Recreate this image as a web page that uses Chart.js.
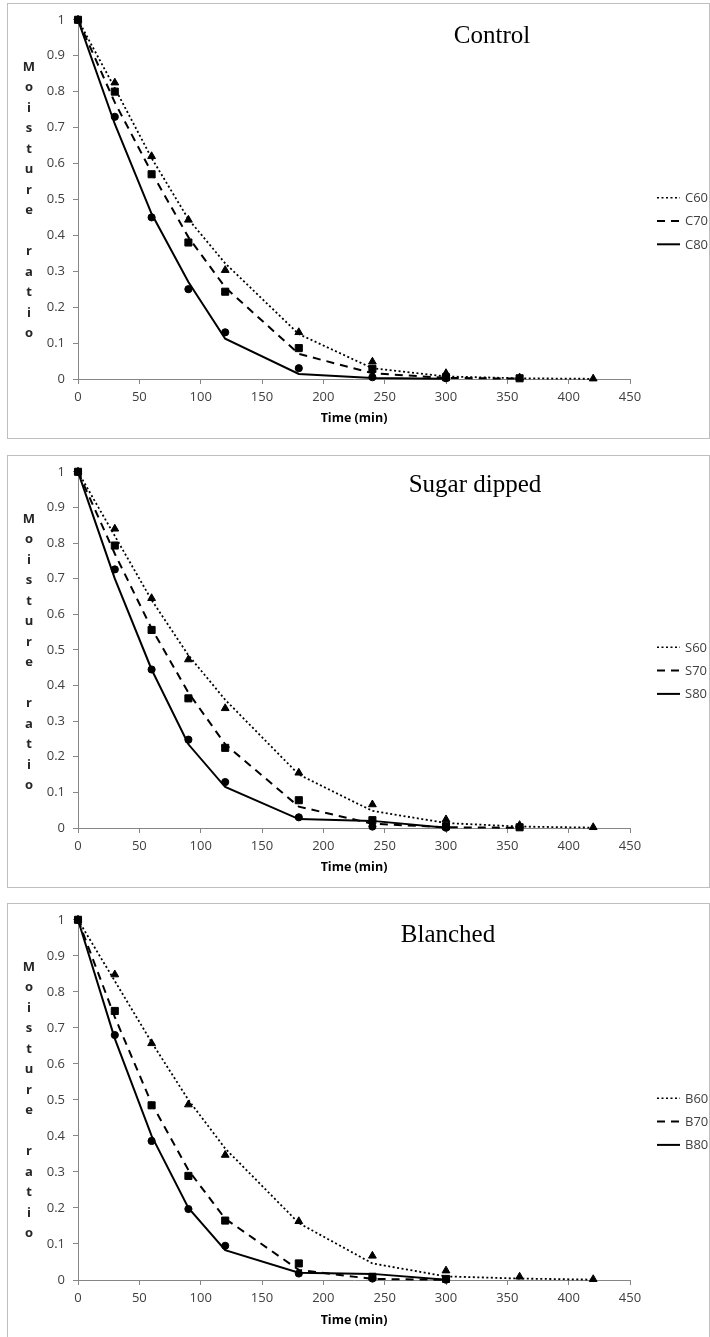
<!DOCTYPE html>
<html>
<head>
<meta charset="utf-8">
<script src="https://cdn.jsdelivr.net/npm/chart.js@4.4.1/dist/chart.umd.min.js"></script>
<style>
  body { margin: 0; background: #fff; width: 710px; height: 1337px; overflow: hidden; position: relative; }
  .panel { position: absolute; left: 7px; width: 703px; border: 1px solid #bfbfbf; box-sizing: border-box; overflow: hidden; background: #fff; }
  .panel canvas { display: block; }
</style>
</head>
<body>
<div class="panel" style="top:3px;height:436px"><canvas id="chartC" width="701" height="434"></canvas></div>
<div class="panel" style="top:455px;height:433px"><canvas id="chartS" width="701" height="431"></canvas></div>
<div class="panel" style="top:903px;height:442px"><canvas id="chartB" width="701" height="440"></canvas></div>
<script>
// time points (min) and axis ticks
const timeMin = [0, 30, 60, 90, 120, 180, 240, 300, 360, 420];
const xTicks = [0, 50, 100, 150, 200, 250, 300, 350, 400, 450];
const yTicks = [0, 0.1, 0.2, 0.3, 0.4, 0.5, 0.6, 0.7, 0.8, 0.9, 1];
const xTitle = "Time (min)";
const yTitle = "Moisture ratio";

// Control: measured (markers) and predicted (lines)
const c60Obs = [1, 0.825, 0.62, 0.443, 0.303, 0.13, 0.048, 0.016, 0.004, 0.001];
const c70Obs = [1, 0.80, 0.57, 0.38, 0.243, 0.086, 0.028, 0.005, 0.002];
const c80Obs = [1, 0.73, 0.45, 0.25, 0.13, 0.03, 0.005, 0.002];
const c60Fit = [1, 0.81, 0.615, 0.445, 0.322, 0.125, 0.03, 0.007, 0.002, 0.0005];
const c70Fit = [1, 0.77, 0.575, 0.395, 0.255, 0.07, 0.016, 0.003, 0.001];
const c80Fit = [1, 0.71, 0.46, 0.27, 0.112, 0.014, 0.003, 0.001];

// Sugar dipped
const s60Obs = [1, 0.84, 0.645, 0.473, 0.336, 0.155, 0.066, 0.024, 0.008, 0.002];
const s70Obs = [1, 0.793, 0.556, 0.364, 0.225, 0.078, 0.022, 0.005, 0.002];
const s80Obs = [1, 0.726, 0.445, 0.248, 0.129, 0.03, 0.004, 0.001];
const s60Fit = [1, 0.82, 0.64, 0.485, 0.36, 0.15, 0.048, 0.014, 0.004, 0.001];
const s70Fit = [1, 0.77, 0.56, 0.38, 0.235, 0.06, 0.012, 0.002, 0.0005];
const s80Fit = [1, 0.70, 0.445, 0.235, 0.115, 0.025, 0.02, 0.001];

// Blanched
const b60Obs = [1, 0.848, 0.657, 0.487, 0.347, 0.163, 0.067, 0.026, 0.009, 0.002];
const b70Obs = [1, 0.747, 0.485, 0.289, 0.165, 0.046, 0.009, 0.003];
const b80Obs = [1, 0.68, 0.386, 0.197, 0.095, 0.018, 0.004, 0.001];
const b60Fit = [1, 0.83, 0.66, 0.50, 0.365, 0.158, 0.046, 0.01, 0.004, 0.001];
const b70Fit = [1, 0.73, 0.49, 0.305, 0.17, 0.028, 0.003, 0.0005];
const b80Fit = [1, 0.67, 0.40, 0.20, 0.083, 0.02, 0.017, 0.001];

const tickFont = { family: "'Open Sans', sans-serif", size: 13 };
const axisColor = "#868686";
const lineDashes = [[2, 2.5], [8, 6], []];
const markerStyles = ["triangle", "rect", "circle"];
const markerSizes = [4.5, 5, 3.6];

// turn a value list into points on the time axis
function toPoints(values) {
  return values.map((v, i) => ({ x: timeMin[i], y: v }));
}

// draws panel title, stacked y title and the legend
const panelDecor = {
  id: "panelDecor",
  afterDraw(chart, args, opts) {
    const ctx = chart.ctx;
    ctx.save();
    ctx.fillStyle = "#000";
    ctx.font = "25px 'Liberation Serif', 'Times New Roman', serif";
    ctx.textAlign = "center";
    ctx.textBaseline = "alphabetic";
    ctx.fillText(opts.title, opts.titleX, opts.titleY);

    ctx.font = "bold 13px 'Open Sans', sans-serif";
    ctx.fillStyle = "#262626";
    ctx.textBaseline = "middle";
    yTitle.split("").forEach((ch, i) => {
      ctx.fillText(ch, 21, 63 + i * 20.5);
    });

    ctx.font = "13px 'Open Sans', sans-serif";
    ctx.textAlign = "left";
    opts.names.forEach((name, i) => {
      const y = opts.legendY + i * 23.3;
      ctx.strokeStyle = "#000";
      ctx.lineWidth = i === 0 ? 1.6 : 2;
      ctx.setLineDash(lineDashes[i]);
      ctx.beginPath();
      ctx.moveTo(649, y);
      ctx.lineTo(672, y);
      ctx.stroke();
      ctx.setLineDash([]);
      ctx.fillStyle = "#404040";
      ctx.fillText(name, 677, y + 0.5);
    });
    ctx.restore();
  },
};

function makeChart(id, p) {
  const datasets = [];
  p.obs.forEach((vals, i) => {
    datasets.push({
      label: p.names[i] + " obs",
      data: toPoints(vals),
      showLine: false,
      pointStyle: markerStyles[i],
      pointRadius: markerSizes[i],
      pointBackgroundColor: "#000",
      pointBorderColor: "#000",
      pointBorderWidth: 1,
      clip: false,
    });
  });
  p.fit.forEach((vals, i) => {
    datasets.push({
      label: p.names[i],
      data: toPoints(vals),
      showLine: true,
      borderColor: "#000",
      borderWidth: i === 0 ? 1.8 : 2,
      borderDash: lineDashes[i],
      pointRadius: 0,
      tension: 0,
      clip: false,
    });
  });

  return new Chart(document.getElementById(id), {
    type: "scatter",
    data: { datasets: datasets },
    options: {
      responsive: false,
      animation: false,
      layout: { padding: { left: 0, top: 13, right: 79, bottom: 0 } },
      plugins: {
        legend: { display: false },
        tooltip: { enabled: false },
        panelDecor: p,
      },
      scales: {
        x: {
          type: "linear",
          min: 0,
          max: 450,
          afterBuildTicks: (s) => { s.ticks = xTicks.map((v) => ({ value: v })); },
          afterFit: (s) => { s.height = p.height - p.plotBottom; },
          grid: { drawOnChartArea: false, color: axisColor, tickLength: 5 },
          border: { color: axisColor },
          ticks: { font: tickFont, color: "#404040", padding: 5, maxRotation: 0 },
          title: {
            display: true,
            text: xTitle,
            color: "#000",
            font: { family: "'Open Sans', sans-serif", size: 12.5, weight: "bold" },
            padding: { top: 0, bottom: p.height - p.xTitleY - 7.5 },
          },
        },
        y: {
          type: "linear",
          min: 0,
          max: 1,
          afterBuildTicks: (s) => { s.ticks = yTicks.map((v) => ({ value: v })); },
          afterFit: (s) => { s.width = 70; },
          grid: { drawOnChartArea: false, color: axisColor, tickLength: 5 },
          border: { color: axisColor },
          ticks: {
            font: tickFont,
            color: "#404040",
            padding: 8,
            callback: (v) => String(Math.round(v * 10) / 10),
          },
        },
      },
    },
    plugins: [panelDecor],
  });
}

makeChart("chartC", {
  title: "Control", titleX: 484, titleY: 39,
  names: ["C60", "C70", "C80"],
  obs: [c60Obs, c70Obs, c80Obs], fit: [c60Fit, c70Fit, c80Fit],
  height: 434, plotBottom: 375, xTitleY: 414, legendY: 193.7,
});
makeChart("chartS", {
  title: "Sugar dipped", titleX: 467, titleY: 36,
  names: ["S60", "S70", "S80"],
  obs: [s60Obs, s70Obs, s80Obs], fit: [s60Fit, s70Fit, s80Fit],
  height: 431, plotBottom: 372, xTitleY: 411, legendY: 191.3,
});
makeChart("chartB", {
  title: "Blanched", titleX: 440, titleY: 38,
  names: ["B60", "B70", "B80"],
  obs: [b60Obs, b70Obs, b80Obs], fit: [b60Fit, b70Fit, b80Fit],
  height: 440, plotBottom: 376, xTitleY: 416, legendY: 194.3,
});
</script>
</body>
</html>
